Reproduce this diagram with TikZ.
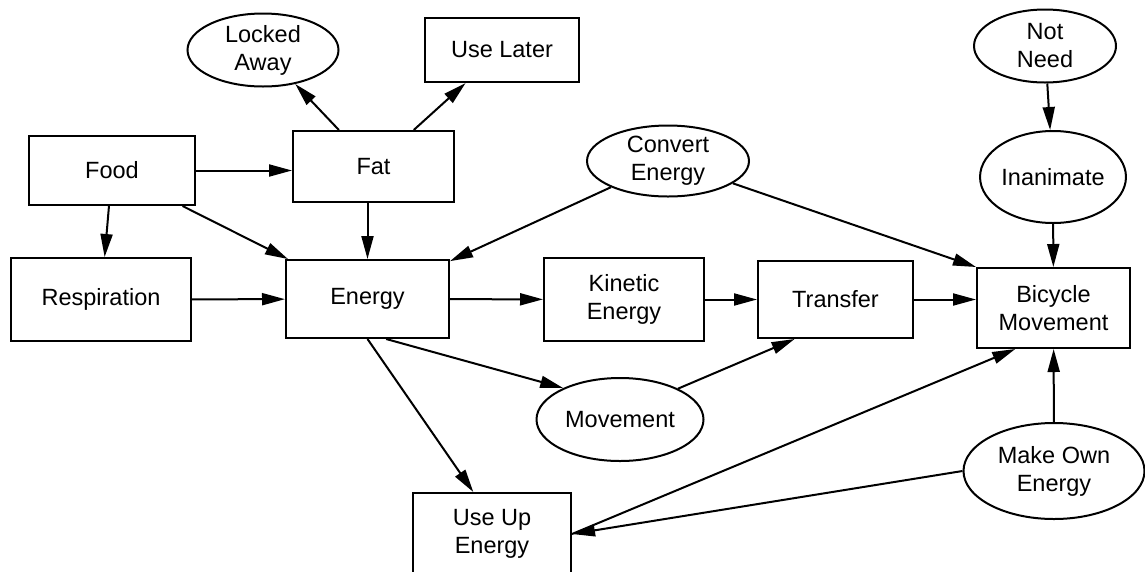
\documentclass[tikz,border=0pt]{standalone}
\usepackage{fontspec}
\setmainfont{Liberation Sans}
\usetikzlibrary{arrows.meta, shapes.geometric}

\begin{document}
\begin{tikzpicture}[x=1pt, y=-1pt,
    every node/.style={font=\fontsize{23.5}{28}\selectfont, align=center, line width=2pt, inner sep=0pt},
    box/.style={draw, rectangle},
    oval/.style={draw, ellipse},
    link/.style={-{Triangle[length=23pt, width=12pt]}, line width=2pt}]
    \useasboundingbox (0,0) rectangle (1145,571);
    % top row
    \node[oval, minimum width=151pt, minimum height=73pt] (locked) at (263,50) {Locked\\Away};
    \node[box, minimum width=154pt, minimum height=64pt] (uselater) at (502,50) {Use Later};
    \node[oval, minimum width=142pt, minimum height=73pt] (notneed) at (1045,46) {Not\\Need};
    \node[box, minimum width=166pt, minimum height=69pt] (food) at (112,170.5) {Food};
    \node[box, minimum width=161pt, minimum height=71pt] (fat) at (373.5,166.5) {Fat};
    \node[oval, minimum width=162pt, minimum height=71pt] (convert) at (668,161) {Convert\\Energy};
    \node[oval, minimum width=140pt, minimum height=92pt] (inanimate) at (1053,177) {Inanimate};
    % middle row
    \node[box, minimum width=180pt, minimum height=83pt] (resp) at (101,299.5) {Respiration};
    \node[box, minimum width=163pt, minimum height=78pt] (energy) at (367.5,299) {Energy};
    \node[box, minimum width=160pt, minimum height=83pt] (kinetic) at (624,299.5) {Kinetic\\Energy};
    \node[box, minimum width=155pt, minimum height=77pt] (transfer) at (835.5,299.5) {Transfer};
    \node[box, minimum width=153pt, minimum height=80pt] (bicycle) at (1053.5,308) {Bicycle\\Movement};
    % bottom row
    \node[oval, minimum width=167pt, minimum height=83pt] (movement) at (620,419.5) {Movement};
    \node[oval, minimum width=181pt, minimum height=96pt] (makeown) at (1054,471) {Make Own\\Energy};
    \node[box, minimum width=158pt, minimum height=82pt] (useup) at (492,534) {Use Up\\Energy};
    % connectors
    \draw[link] (food.east) -- (food.east -| fat.west);
    \draw[link] (food) -- (resp);
    \draw[link] (food) -- (energy);
    \draw[link] (fat) -- (locked);
    \draw[link] (fat) -- (uselater);
    \draw[link] (energy.north |- fat.south) -- (energy.north);
    \draw[link] (convert) -- (energy);
    \draw[link] (convert) -- (bicycle.north west);
    \draw[link] (notneed) -- (inanimate);
    \draw[link] (inanimate) -- (bicycle);
    \draw[link] (resp) -- (energy);
    \draw[link] (energy) -- (kinetic);
    \draw[link] (kinetic) -- (transfer);
    \draw[link] (transfer.east) -- (transfer.east -| bicycle.west);
    \draw[link] (energy.-65) -- (movement.151);
    \draw[link] (movement.28) -- (transfer.-136);
    \draw[link] (energy.south) -- (useup.114);
    \draw[link] (makeown) -- (bicycle);
    \draw[link] (makeown.west) -- (useup.east);
    \draw[link] (useup.east) -- (bicycle.-133);
\end{tikzpicture}
\end{document}
